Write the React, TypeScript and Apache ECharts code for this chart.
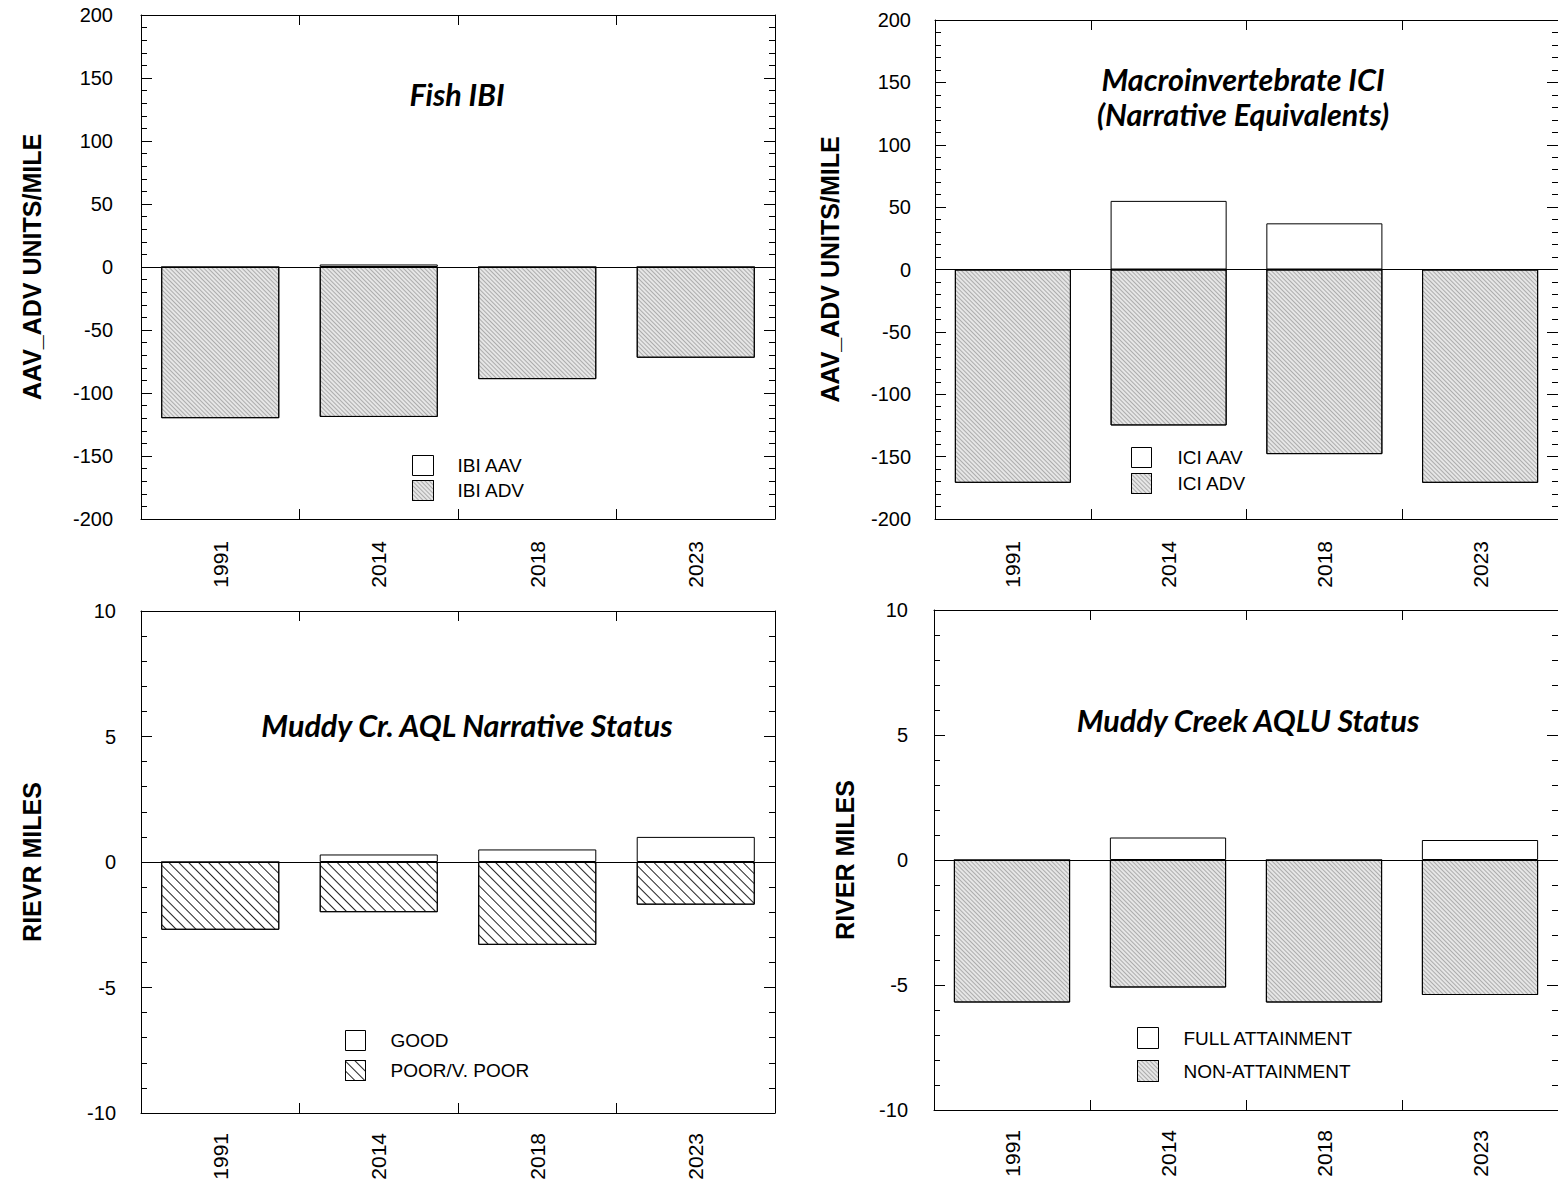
import React, { useEffect, useRef } from "react";
import * as echarts from "echarts";

const years = ["1991", "2014", "2018", "2023"];
const ibiAAV = [0, 2, 0, 0];
const ibiADV = [-120, -119, -89, -72];
const iciAAV = [0, 55, 37, 0];
const iciADV = [-171, -125, -148, -171];
const goodMiles = [0, 0.3, 0.5, 1.0];
const poorMiles = [-2.7, -2.0, -3.3, -1.7];
const fullMiles = [0, 0.9, 0, 0.8];
const nonMiles = [-5.7, -5.1, -5.7, -5.4];

const SANS = "'Liberation Sans', Arial, sans-serif";
const TITLE_FONT = "Lato, 'Open Sans', sans-serif";

const grayFill = {
  color: "#e6e6e6",
  decal: {
    symbol: "rect",
    symbolSize: 1,
    dashArrayX: [1, 0],
    dashArrayY: [1, 2],
    rotation: Math.PI / 4,
    color: "rgba(0,0,0,0.25)",
  },
};
const hatchFill = {
  color: "#ffffff",
  decal: {
    symbol: "rect",
    symbolSize: 1,
    dashArrayX: [1, 0],
    dashArrayY: [1, 6],
    rotation: Math.PI / 4,
    color: "#222222",
    backgroundColor: "#ffffff",
  },
};

function yAxes(gi: number, min: number, max: number, interval: number, margin: number, name: string, nameGap: number) {
  const common = {
    type: "value",
    gridIndex: gi,
    min,
    max,
    interval,
    splitLine: { show: false },
    axisLine: { show: true, lineStyle: { color: "#000", width: 1 } },
    axisTick: { show: true, inside: true, length: 11, lineStyle: { color: "#000" } },
    minorTick: { show: true, splitNumber: 5, length: 6, lineStyle: { color: "#000" } },
  };
  return [
    {
      ...common,
      position: "left",
      axisLabel: { margin, fontSize: 20, color: "#000", fontFamily: SANS },
      name,
      nameLocation: "middle",
      nameGap,
      nameRotate: 90,
      nameTextStyle: { fontWeight: "bold", fontSize: 25, color: "#000", fontFamily: SANS },
    },
    { ...common, position: "right", axisLabel: { show: false } },
  ];
}

function xAxes(gi: number, margin: number) {
  const common = {
    type: "category",
    gridIndex: gi,
    data: years,
    boundaryGap: true,
    axisLine: { show: true, onZero: false, lineStyle: { color: "#000", width: 1 } },
    axisTick: { show: true, inside: true, length: 10, lineStyle: { color: "#000" } },
  };
  return [
    {
      ...common,
      position: "bottom",
      axisLabel: { rotate: 90, margin, fontSize: 21, color: "#000", fontFamily: SANS },
    },
    { ...common, position: "top", axisLabel: { show: false } },
  ];
}

function barPair(gi: number, names: string[], pos: number[], neg: number[], negStyle: any) {
  const base = {
    type: "bar",
    xAxisIndex: gi * 2,
    yAxisIndex: gi * 2,
    barWidth: "74.5%",
    barGap: "-100%",
  };
  return [
    {
      ...base,
      name: names[0],
      data: pos,
      itemStyle: { color: "#ffffff", borderColor: "#000", borderWidth: 1 },
    },
    {
      ...base,
      name: names[1],
      data: neg,
      itemStyle: { ...negStyle, borderColor: "#000", borderWidth: 1 },
      markLine: {
        silent: true,
        symbol: "none",
        label: { show: false },
        lineStyle: { color: "#000", type: "solid", width: 1 },
        data: [{ yAxis: 0 }],
      },
    },
  ];
}

function legend(left: number, top: number, names: string[], w: number, h: number, gap: number, pad: number) {
  return {
    orient: "vertical",
    left,
    top,
    padding: 0,
    itemWidth: w,
    itemHeight: h,
    itemGap: gap,
    icon: "rect",
    data: names,
    selectedMode: false,
    itemStyle: { borderColor: "#000", borderWidth: 1 },
    textStyle: { fontSize: 19, color: "#000", fontFamily: SANS, lineHeight: h, padding: [0, 0, 0, pad] },
  };
}

export default function App() {
  const ref = useRef<HTMLDivElement>(null);
  useEffect(() => {
    if (!ref.current) return;
    const chart = echarts.init(ref.current, null, { renderer: "svg" });
    const titleStyle = (text: string, x: number, y: number) => ({
      type: "text",
      x,
      y,
      style: {
        text,
        align: "center",
        verticalAlign: "middle",
        fontFamily: TITLE_FONT,
        fontWeight: "bold",
        fontStyle: "italic",
        fontSize: 30.5,
        lineHeight: 35,
        fill: "#000",
      },
    });
    chart.setOption({
      animation: false,
      backgroundColor: "#ffffff",
      grid: [
        { left: 141, top: 15, width: 634, height: 504 },
        { left: 935, top: 20, width: 631, height: 499 },
        { left: 141, top: 611, width: 634, height: 502 },
        { left: 934, top: 610, width: 632, height: 500 },
      ],
      xAxis: [...xAxes(0, 22), ...xAxes(1, 22), ...xAxes(2, 20), ...xAxes(3, 20)],
      yAxis: [
        ...yAxes(0, -200, 200, 50, 28, "AAV_ADV UNITS/MILE", 97),
        ...yAxes(1, -200, 200, 50, 24, "AAV_ADV UNITS/MILE", 93),
        ...yAxes(2, -10, 10, 5, 25, "RIEVR MILES", 97),
        ...yAxes(3, -10, 10, 5, 26, "RIVER MILES", 77),
      ],
      legend: [
        legend(412, 455, ["IBI AAV", "IBI ADV"], 21, 20, 4, 19),
        legend(1131, 447, ["ICI AAV", "ICI ADV"], 20, 20, 5, 21),
        legend(345, 1030, ["GOOD", "POOR/V. POOR"], 20, 20, 9, 20),
        legend(1137, 1027, ["FULL ATTAINMENT", "NON-ATTAINMENT"], 21, 21, 11, 20),
      ],
      series: [
        ...barPair(0, ["IBI AAV", "IBI ADV"], ibiAAV, ibiADV, grayFill),
        ...barPair(1, ["ICI AAV", "ICI ADV"], iciAAV, iciADV, grayFill),
        ...barPair(2, ["GOOD", "POOR/V. POOR"], goodMiles, poorMiles, hatchFill),
        ...barPair(3, ["FULL ATTAINMENT", "NON-ATTAINMENT"], fullMiles, nonMiles, grayFill),
      ],
      graphic: [
        titleStyle("Fish IBI", 457, 94),
        titleStyle("Macroinvertebrate ICI\n(Narrative Equivalents)", 1243, 96),
        titleStyle("Muddy Cr. AQL Narrative Status", 467, 725),
        titleStyle("Muddy Creek AQLU Status", 1248, 720),
      ],
    });
    return () => chart.dispose();
  }, []);
  return (
    <div
      ref={ref}
      style={{ position: "absolute", left: 0, top: 0, width: 1558, height: 1188 }}
    />
  );
}
